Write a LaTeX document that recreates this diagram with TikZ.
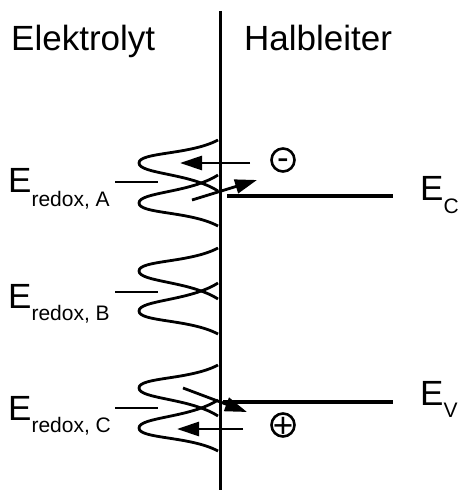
\documentclass[tikz,border=0pt]{standalone}
\usepackage{fontspec}
\setmainfont{Liberation Sans}
\usetikzlibrary{positioning,arrows.meta}
\newcommand{\bigfont}{\fontsize{35}{40}\selectfont}
\newcommand{\subfont}{\fontsize{21}{23}\selectfont}
\tikzset{
  flow/.style={-{Triangle[length=22pt,width=14pt]},line width=2.8pt},
  band/.style={line width=4pt},
  level/.style={line width=2.8pt},
  dos/.style={line width=2.8pt},
  wall/.style={line width=3pt},
  head/.style={anchor=base west,inner sep=0pt,font=\bigfont},
  ring/.style={circle,draw,line width=2.6pt,minimum size=23pt,inner sep=0pt},
  sign/.style={inner sep=0pt,text depth=0pt,font=\bigfont}
}

\begin{document}
\begin{tikzpicture}[x=1pt,y=-1pt]
  \useasboundingbox (0,0) rectangle (460,495);
  \node[head] (elyt) at (11,51) {Elektrolyt};
  \node[head] (hlt) at (244,51) {Halbleiter};
  \coordinate (wtop) at (220,11);
  \coordinate (wbot) at (220,490);
  \draw[wall] (wtop) -- (wbot);

  \foreach \c in {183,291,408}{
    \draw[dos] (218,{\c-43}) .. controls (190,{\c-28}) and (139,{\c-31}) .. (139,{\c-20})
      .. controls (139,{\c-9}) and (190,{\c-10}) .. (218,{\c+8});
    \draw[dos] (218,{\c-8}) .. controls (190,{\c+10}) and (139,{\c+9}) .. (139,{\c+20})
      .. controls (139,{\c+31}) and (190,{\c+28}) .. (218,{\c+43});
  }

  \node[head] (redA) at (8,192) {E\raisebox{-14pt}{\subfont redox, A}};
  \node[head] (redB) at (8,308) {E\raisebox{-12pt}{\subfont redox, B}};
  \node[head] (redC) at (8,420) {E\raisebox{-12pt}{\subfont redox, C}};
  \coordinate (lvAl) at (115,182); \coordinate (lvAr) at (158,182);
  \coordinate (lvBl) at (115,292); \coordinate (lvBr) at (158,292);
  \coordinate (lvCl) at (115,408); \coordinate (lvCr) at (158,408);
  \draw[level] (lvAl) -- (lvAr);
  \draw[level] (lvBl) -- (lvBr);
  \draw[level] (lvCl) -- (lvCr);

  \node[head] (ec) at (420,200) {E\raisebox{-13pt}{\subfont C}};
  \node[head] (ev) at (420,405) {E\raisebox{-12pt}{\subfont V}};
  \coordinate (ecL) at (227,196); \coordinate (ecR) at (393,196);
  \coordinate (evL) at (223,402); \coordinate (evR) at (393,402);

  \coordinate (a1s) at (250,163); \coordinate (a1e) at (180,163);
  \coordinate (a2s) at (192,200); \coordinate (a2e) at (257,180);
  \coordinate (c1s) at (183,388); \coordinate (c1e) at (247,412);
  \coordinate (c2s) at (243,429); \coordinate (c2e) at (177,429);
  \draw[flow] (a1s) -- (a1e);
  \draw[flow] (a2s) -- (a2e);
  \draw[flow] (c1s) -- (c1e);
  \draw[flow] (c2s) -- (c2e);
  \draw[band] (ecL) -- (ecR);
  \draw[band] (evL) -- (evR);

  \node[ring] (elec) at (283,160) {};
  \node[sign,text height=18.6pt] (minus) at (elec) {-};
  \node[ring] (hole) at (283,425) {};
  \node[sign,text height=24.7pt] (plus) at (hole) {+};
\end{tikzpicture}
\end{document}
